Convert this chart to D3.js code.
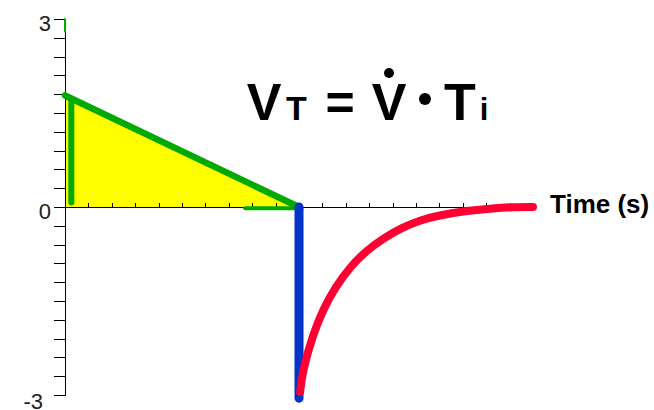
<!DOCTYPE html>
<html>
<head>
<meta charset="utf-8">
<style>
body { margin: 0; background: #fff; }
text { font-family: Arial, "Liberation Sans", sans-serif; }
.axis path, .axis line { stroke: #000; shape-rendering: crispEdges; }
.axis text { font-size: 22px; fill: #222; }
</style>
</head>
<body>
<script src="https://cdn.jsdelivr.net/npm/d3@7"></script>
<script>
var width = 654, height = 410;

// data (time in ticks, value in axis units)
var yLabels = [3, 0, -3];
var areaPoints = [[0, 1.78], [10, 0], [0, 0]];
var greenDiag = [[0, 1.78], [10, 0]];
var greenVert = [[0.27, 1.72], [0.27, 0.07]];
var greenStub = [[0, 3], [0, 2.8]];
var greenBase = [[7.7, -0.02], [10.1, -0.02]];
var blueLine = [[10, 0], [10, -3.05]];
var redX = [10.05, 10.15, 10.6, 11.05, 11.55, 12.2, 12.9, 13.6, 14.4, 15.2, 16.0, 17.2, 18.3, 19.2, 20.0];
var redY = [-2.95, -2.62, -2.03, -1.62, -1.28, -0.95, -0.69, -0.5, -0.33, -0.21, -0.13, -0.06, -0.02, 0.0, 0.0];

var x = d3.scaleLinear().domain([0, 20]).range([65, 533]);
var y = d3.scaleLinear().domain([-3, 3]).range([395, 19]);

var svg = d3.select("body").append("svg")
    .attr("width", width)
    .attr("height", height);

var line = d3.line()
    .x(function(d) { return x(d[0]); })
    .y(function(d) { return y(d[1]); });

// yellow area
svg.append("path")
    .attr("d", line(areaPoints) + "Z")
    .attr("fill", "#ffff00");

// axes
var yAxis = d3.axisLeft(y)
    .tickValues(d3.range(-10, 11).map(function(k) { return k * 0.3; }))
    .tickSizeInner(11)
    .tickSizeOuter(0)
    .tickFormat(function(d) {
        var v = Math.round(d * 10) / 10;
        return yLabels.indexOf(v) >= 0 ? v : "";
    });

var gy = svg.append("g")
    .attr("class", "axis")
    .attr("transform", "translate(" + x(0) + ",0)")
    .call(yAxis);
gy.selectAll("text").attr("dy", "0.5em");
gy.selectAll("text").filter(function(d) { return Math.round(d * 10) / 10 == -3; })
    .attr("x", -22).attr("dy", "0.6em");

var xAxis = d3.axisBottom(x)
    .tickValues(d3.range(1, 21))
    .tickSizeInner(-4)
    .tickSizeOuter(0)
    .tickFormat("");

svg.append("g")
    .attr("class", "axis")
    .attr("transform", "translate(0," + y(0) + ")")
    .call(xAxis);

// lines
function drawLine(pts, color, w) {
    svg.append("path")
        .attr("d", line(pts))
        .attr("fill", "none")
        .attr("stroke", color)
        .attr("stroke-width", w)
        .attr("stroke-linecap", "round")
        .attr("stroke-linejoin", "round");
}

drawLine(greenStub, "#00aa00", 2);
drawLine(greenBase, "#00aa00", 4);
drawLine(greenDiag, "#00aa00", 6.5);
drawLine(greenVert, "#00aa00", 6);
drawLine(blueLine, "#0033cc", 9);

var redPts = redX.map(function(v, i) { return [v, redY[i]]; });
svg.append("path")
    .attr("d", line.curve(d3.curveBasis)(redPts))
    .attr("fill", "none")
    .attr("stroke", "#ff0033")
    .attr("stroke-width", 8)
    .attr("stroke-linecap", "round")
    .attr("stroke-linejoin", "round");

// axis title
svg.append("text")
    .attr("x", 550)
    .attr("y", 213)
    .style("font-size", "26px")
    .style("font-weight", "bold")
    .text("Time (s)");

// formula
var f = svg.append("g").style("font-weight", "bold").attr("text-anchor", "middle");
f.append("text").attr("x", 264).attr("y", 120).style("font-size", "52px").text("V");
f.append("text").attr("x", 296.5).attr("y", 120).style("font-size", "34px").text("T");
f.append("text").attr("x", 340).attr("y", 120).style("font-size", "50px").text("=");
f.append("text").attr("x", 389).attr("y", 120).style("font-size", "52px").text("V");
f.append("circle").attr("cx", 389).attr("cy", 73).attr("r", 5);
f.append("circle").attr("cx", 425).attr("cy", 99).attr("r", 6);
f.append("text").attr("x", 460).attr("y", 120).style("font-size", "52px").text("T");
f.append("text").attr("x", 484).attr("y", 120).style("font-size", "31px").text("i");
</script>
</body>
</html>
